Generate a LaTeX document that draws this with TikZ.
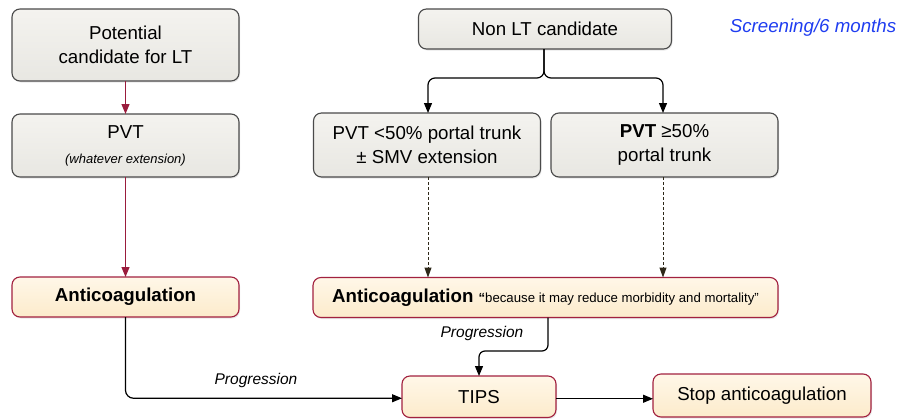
\documentclass[tikz,border=0pt]{standalone}
\usepackage{fontspec}
\setmainfont{Liberation Sans}
\usetikzlibrary{arrows.meta,shadows}
\definecolor{grayline}{HTML}{4A4A4A}
\definecolor{graytop}{HTML}{F4F3EF}
\definecolor{graybot}{HTML}{E8E7E2}
\definecolor{beigetop}{HTML}{FFF7E8}
\definecolor{beigebot}{HTML}{FCEBCB}
\definecolor{redline}{HTML}{A2213F}
\definecolor{arrred}{HTML}{9A1C3C}
\definecolor{bluetxt}{HTML}{1F3DF0}
\definecolor{dashcol}{HTML}{2E2819}
\begin{document}
\begin{tikzpicture}[x=1pt,y=-1pt,
  every node/.style={inner sep=0pt, outer sep=0pt},
  bigfont/.style={font=\fontsize{18.7}{24}\selectfont},
  graybox/.style={draw=grayline, line width=1.1pt, rounded corners=8pt,
    top color=graytop, bottom color=graybot, align=center, bigfont,
    drop shadow={opacity=0.18, shadow xshift=1pt, shadow yshift=-1.5pt}},
  beigebox/.style={draw=redline, line width=1.1pt, rounded corners=8pt,
    top color=beigetop, bottom color=beigebot, align=center, bigfont,
    drop shadow={opacity=0.18, shadow xshift=1pt, shadow yshift=-1.5pt}},
  redarr/.style={draw=arrred, line width=1.2pt, -{Triangle[length=10pt,width=8pt]}},
  blkarr/.style={draw=black, line width=1.2pt, -{Triangle[length=10pt,width=8pt]}},
  dasharr/.style={draw=dashcol, line width=1pt, dash pattern=on 3pt off 2pt,
    -{Triangle[length=10pt,width=7pt]}},
  proglabel/.style={font=\fontsize{15.5}{18}\selectfont\itshape}
]
\useasboundingbox (0,0) rectangle (900,418);

% left column
\node[graybox, minimum width=227pt, minimum height=72pt] (A) at (125.5,45)
  {Potential\\candidate for LT};
\node[graybox, minimum width=227pt, minimum height=63pt] (B) at (125.5,145.5)
  {PVT\\[1pt]{\fontsize{13}{16}\selectfont\itshape (whatever extension)}};
\node[beigebox, minimum width=227pt, minimum height=40pt] (C) at (125.5,297)
  {\bfseries Anticoagulation};

% right column
\node[graybox, minimum width=253pt, minimum height=40pt] (D) at (545,29)
  {Non LT candidate};
\node[font=\fontsize{18.7}{24}\selectfont\itshape, text=bluetxt] (scr) at (813,28)
  {Screening/6 months};
\node[graybox, minimum width=227pt, minimum height=64pt] (E) at (427,145)
  {PVT <50\% portal trunk\\± SMV extension};
\node[graybox, minimum width=227pt, minimum height=64pt] (F) at (664.5,145)
  {\textbf{PVT} ≥50\%\\portal trunk};
\node[beigebox, minimum width=465pt, minimum height=40pt] (G) at (545.5,297.5)
  {\textbf{Anticoagulation} {\fontsize{13.2}{16}\selectfont\textbf{“}because it may reduce morbidity and mortality”}};

% bottom row
\node[beigebox, minimum width=154pt, minimum height=41.5pt] (T) at (479,396.75)
  {TIPS};
\node[beigebox, minimum width=218pt, minimum height=43pt] (S) at (762,395.5)
  {Stop anticoagulation};

% connectors
\draw[redarr] (A.south) -- (B.north);
\draw[redarr] (B.south) -- (C.north);

\coordinate (j) at (544,78);
\draw[blkarr, rounded corners=7pt] ([xshift=-1pt]D.south) |- ([xshift=1pt]E.north |- j) -- ([xshift=1pt]E.north);
\draw[blkarr, rounded corners=7pt] ([xshift=-1pt]D.south) |- ([xshift=-1.5pt]F.north |- j) -- ([xshift=-1.5pt]F.north);

\draw[dasharr] ([xshift=1pt]E.south) -- ([xshift=1pt]E.south |- G.north);
\draw[dasharr] ([xshift=-1.5pt]F.south) -- ([xshift=-1.5pt]F.south |- G.north);

\coordinate (k) at (548,351);
\draw[blkarr, rounded corners=6pt] ([xshift=2.5pt]G.south) |- (T.north |- k) -- (T.north);
\node[proglabel] (p1) at (482,333) {Progression};

\draw[blkarr, rounded corners=8pt] (C.south) |- ([yshift=-1.5pt]T.west);
\node[proglabel] (p2) at (256,380) {Progression};

\draw[blkarr] ([yshift=-2pt]T.east) -- ([yshift=-2pt]T.east -| S.west);
\end{tikzpicture}
\end{document}
